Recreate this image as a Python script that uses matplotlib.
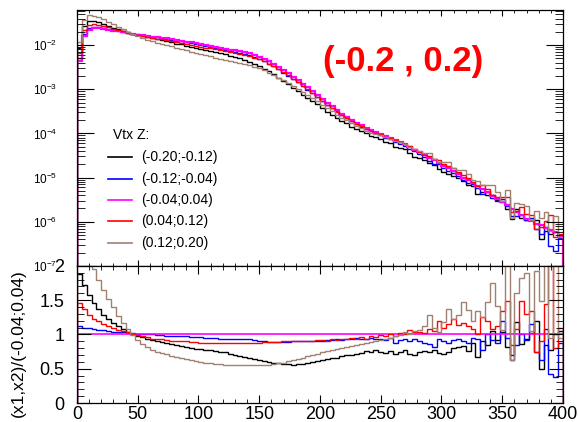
import numpy as np
import matplotlib
matplotlib.use('Agg')
import matplotlib.pyplot as plt
from matplotlib.ticker import MultipleLocator, LogLocator, NullFormatter, FuncFormatter

plt.rcParams['font.family'] = ['Liberation Sans', 'DejaVu Sans']
plt.rcParams['mathtext.fontset'] = 'custom'
plt.rcParams['mathtext.rm'] = 'Liberation Sans'
plt.rcParams['mathtext.it'] = 'Liberation Sans:italic'
plt.rcParams['mathtext.default'] = 'regular'

# 4-unit bins from 0 to 400
edges = np.arange(0, 401, 4)

# reference bin (-0.04;0.04), log10 of content
ref_log = [
    -2.35, -1.80, -1.65, -1.62, -1.62, -1.63, -1.65, -1.67, -1.69, -1.71,
    -1.73, -1.75, -1.76, -1.78, -1.79, -1.81, -1.82, -1.84, -1.85, -1.87,
    -1.89, -1.90, -1.92, -1.94, -1.96, -1.98, -2.00, -2.02, -2.04, -2.06,
    -2.08, -2.10, -2.12, -2.14, -2.16, -2.19, -2.23, -2.27, -2.32, -2.37,
    -2.43, -2.50, -2.57, -2.64, -2.72, -2.80, -2.88, -2.96, -3.04, -3.13,
    -3.22, -3.31, -3.39, -3.47, -3.55, -3.62, -3.69, -3.76, -3.82, -3.88,
    -3.93, -3.97, -4.01, -4.06, -4.10, -4.15, -4.20, -4.25, -4.31, -4.37,
    -4.43, -4.49, -4.55, -4.61, -4.67, -4.73, -4.79, -4.86, -4.93, -5.00,
    -5.06, -5.13, -5.20, -5.27, -5.33, -5.42, -5.48, -5.56, -5.62, -5.72,
    -5.79, -5.85, -5.93, -5.98, -6.05, -6.08, -6.15, -6.18, -6.24, -6.32,
]

# ratios to the reference bin
r_m20_m12 = [
    1.88, 1.72, 1.58, 1.46, 1.37, 1.29, 1.23, 1.17, 1.12, 1.08,
    1.04, 1.01, 0.98, 0.96, 0.94, 0.92, 0.90, 0.89, 0.87, 0.86,
    0.84, 0.83, 0.81, 0.80, 0.79, 0.79, 0.78, 0.77, 0.76, 0.75,
    0.74, 0.72, 0.70, 0.69, 0.67, 0.65, 0.64, 0.62, 0.61, 0.60,
    0.59, 0.58, 0.57, 0.57, 0.56, 0.57, 0.57, 0.58, 0.60, 0.61,
    0.63, 0.64, 0.65, 0.66, 0.68, 0.70, 0.70, 0.72, 0.73, 0.76,
    0.74, 0.78, 0.75, 0.73, 0.76, 0.71, 0.74, 0.78, 0.72, 0.70,
    0.74, 0.76, 0.75, 0.77, 0.73, 0.72, 0.74, 0.80, 0.82, 0.83,
    0.76, 0.88, 0.67, 0.90, 0.84, 1.05, 0.92, 1.04, 0.82, 0.62,
    1.18, 0.86, 0.94, 1.02, 1.20, 0.50, 0.85, 0.78, 1.00, 1.05,
]
r_m12_m04 = [
    1.12, 1.10, 1.09, 1.08, 1.07, 1.06, 1.05, 1.04, 1.04, 1.03,
    1.02, 1.02, 1.01, 1.01, 1.00, 1.00, 0.99, 0.99, 0.98, 0.98,
    0.98, 0.97, 0.97, 0.96, 0.96, 0.96, 0.95, 0.95, 0.95, 0.94,
    0.94, 0.94, 0.94, 0.93, 0.93, 0.93, 0.92, 0.91, 0.90, 0.89,
    0.89, 0.89, 0.89, 0.89, 0.90, 0.90, 0.90, 0.90, 0.91, 0.91,
    0.91, 0.92, 0.92, 0.93, 0.92, 0.94, 0.93, 0.95, 0.93, 0.94,
    0.95, 0.93, 0.94, 0.92, 0.95, 0.88, 0.92, 0.93, 0.90, 0.94,
    0.91, 0.88, 0.86, 0.82, 0.93, 0.90, 0.88, 0.92, 0.94, 0.90,
    0.88, 0.95, 0.93, 0.78, 1.01, 0.92, 0.88, 1.20, 0.95, 0.70,
    0.85, 1.01, 0.92, 1.15, 0.75, 0.62, 1.08, 0.42, 0.38, 0.88,
]
r_p04_p12 = [
    1.46, 1.37, 1.29, 1.23, 1.19, 1.15, 1.12, 1.09, 1.07, 1.05,
    1.03, 1.01, 0.99, 0.97, 0.96, 0.94, 0.93, 0.93, 0.92, 0.91,
    0.91, 0.90, 0.90, 0.89, 0.89, 0.88, 0.88, 0.88, 0.88, 0.87,
    0.87, 0.87, 0.87, 0.87, 0.87, 0.88, 0.88, 0.88, 0.89, 0.89,
    0.89, 0.89, 0.90, 0.90, 0.90, 0.91, 0.90, 0.91, 0.91, 0.92,
    0.92, 0.91, 0.93, 0.92, 0.94, 0.93, 0.95, 0.94, 0.96, 0.94,
    0.97, 0.96, 0.99, 0.97, 1.00, 0.98, 1.02, 1.00, 1.07, 1.03,
    1.04, 1.02, 1.08, 1.05, 1.19, 1.10, 1.15, 1.22, 1.14, 1.17,
    1.12, 1.08, 1.00, 1.26, 1.19, 1.08, 1.12, 1.34, 1.49, 0.85,
    1.08, 1.49, 1.30, 1.34, 0.75, 0.90, 1.44, 2.10, 0.80, 1.10,
]
r_p12_p20 = [
    2.60, 2.35, 2.10, 1.95, 1.80, 1.65, 1.52, 1.40, 1.27, 1.16,
    1.08, 0.99, 0.92, 0.86, 0.82, 0.78, 0.75, 0.73, 0.71, 0.69,
    0.67, 0.66, 0.64, 0.62, 0.61, 0.60, 0.59, 0.58, 0.57, 0.57,
    0.56, 0.56, 0.55, 0.55, 0.55, 0.55, 0.55, 0.56, 0.56, 0.56,
    0.57, 0.58, 0.59, 0.61, 0.62, 0.64, 0.66, 0.68, 0.70, 0.72,
    0.74, 0.76, 0.77, 0.79, 0.80, 0.82, 0.83, 0.85, 0.86, 0.87,
    0.89, 0.90, 0.92, 0.93, 0.95, 0.97, 0.99, 1.04, 1.00, 1.05,
    1.06, 1.12, 1.29, 1.10, 1.04, 1.18, 1.37, 1.22, 1.29, 1.48,
    1.36, 1.19, 1.34, 1.25, 1.48, 1.75, 1.41, 1.06, 2.20, 0.63,
    1.60, 1.82, 1.90, 1.05, 1.93, 1.49, 2.30, 0.95, 2.40, 0.95,
]

labels = ['(-0.20;-0.12)', '(-0.12;-0.04)', '(-0.04;0.04)', '(0.04;0.12)', '(0.12;0.20)']
colors = ['#000000', '#0000ff', '#ff00ff', '#ff0000', '#a08070']

ref = 10 ** np.array(ref_log)
ratios = [np.array(r_m20_m12), np.array(r_m12_m04), np.ones(len(ref)),
          np.array(r_p04_p12), np.array(r_p12_p20)]
widths = [1.0, 1.0, 1.6, 1.0, 1.0]

fig = plt.figure(figsize=(5.78, 4.22), dpi=100)
ax_top = fig.add_axes([0.1332, 0.370, 0.8408, 0.6063])
ax_rat = fig.add_axes([0.1332, 0.045, 0.8408, 0.325])

for r, col, lw in zip(ratios, colors, widths):
    ax_top.stairs(ref * r, edges, baseline=1e-7, color=col, lw=lw)
for i, (r, col) in enumerate(zip(ratios, colors)):
    if i == 2:
        ax_rat.stairs(r, edges, baseline=None, color=col, lw=1.2)
    else:
        ax_rat.stairs(r, edges, baseline=0, color=col, lw=1.0)

# top pad
ax_top.set_yscale('log')
ax_top.set_xlim(0, 400)
ax_top.set_ylim(1e-7, 0.0624)
ax_top.xaxis.set_major_locator(MultipleLocator(50))
ax_top.xaxis.set_minor_locator(MultipleLocator(10))
ax_top.yaxis.set_major_locator(LogLocator(base=10, numticks=12))
ax_top.yaxis.set_minor_locator(LogLocator(base=10, subs=np.arange(2, 10), numticks=12))
ax_top.yaxis.set_minor_formatter(NullFormatter())
ax_top.tick_params(which='both', direction='in', top=True, right=True, labelbottom=False)
ax_top.tick_params(axis='y', which='major', length=12, labelsize=8.5, pad=14)
ax_top.tick_params(axis='y', which='minor', length=6)
ax_top.tick_params(axis='x', which='major', length=4)
ax_top.tick_params(axis='x', which='minor', length=2)

# ratio pad
ax_rat.set_xlim(0, 400)
ax_rat.set_ylim(0, 2)
ax_rat.xaxis.set_major_locator(MultipleLocator(50))
ax_rat.xaxis.set_minor_locator(MultipleLocator(10))
ax_rat.yaxis.set_major_locator(MultipleLocator(0.5))
ax_rat.yaxis.set_minor_locator(MultipleLocator(0.1))
ax_rat.yaxis.set_major_formatter(FuncFormatter(lambda v, p: f'{v:g}'))
ax_rat.tick_params(which='both', direction='in', top=True, right=True, labelsize=13)
ax_rat.tick_params(axis='y', which='major', length=10, pad=9)
ax_rat.tick_params(axis='y', which='minor', length=5)
ax_rat.tick_params(axis='x', which='major', length=6, pad=2)
ax_rat.tick_params(axis='x', which='minor', length=3)
fig.text(18 / 578, 1 - 343 / 422, '(x1,x2)/(-0.04;0.04)', rotation=90,
         ha='center', va='center', fontsize=12.5)

for ax in (ax_top, ax_rat):
    for s in ax.spines.values():
        s.set_linewidth(0.9)

# legend drawn by hand, ROOT style
W, H = 578, 422
fig.text(113 / W, 1 - 135 / H, 'Vtx Z:', ha='left', va='center', fontsize=10)
for k, (lab, col) in enumerate(zip(labels, colors)):
    yk = 157 + k * 21.5
    fig.add_artist(plt.Line2D([108 / W, 132 / W], [1 - yk / H, 1 - yk / H],
                              color=col, lw=1.2))
    fig.text(141 / W, 1 - yk / H, lab, ha='left', va='center', fontsize=10)

fig.text(403 / W, 1 - 61 / H, '(-0.2 , 0.2)', color='#ff0000', fontsize=25,
         fontweight='bold', ha='center', va='center')

fig.savefig('out.png', dpi=100)
